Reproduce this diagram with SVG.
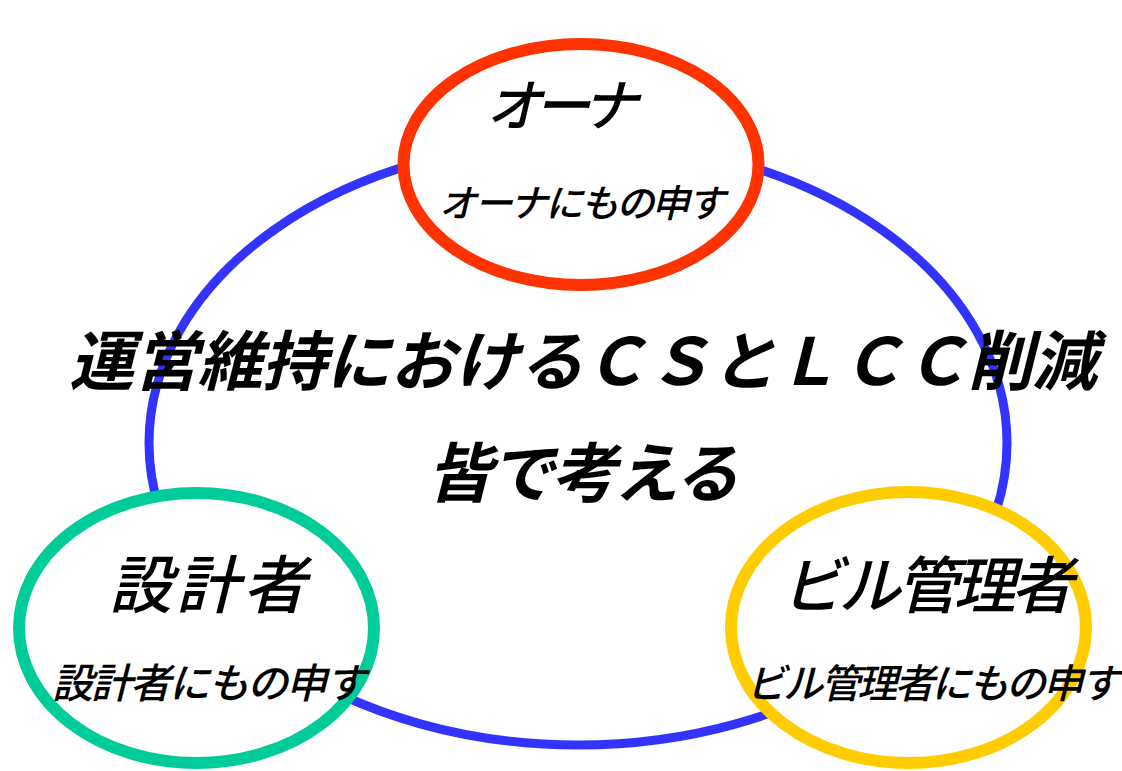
<svg xmlns="http://www.w3.org/2000/svg" width="1122" height="771" viewBox="0 0 1122 771">
<style>
.t{font-family:"Noto Sans CJK JP","Noto Sans",sans-serif;font-style:italic;fill:#000}
.b{font-weight:bold}
.m{font-weight:500}
</style>
<rect width="1122" height="771" fill="#fff"/>
<g id="center">
<ellipse cx="578" cy="443" rx="429" ry="302" fill="#fff" stroke="#3333FF" stroke-width="9"/>
</g>
<g id="owner">
<ellipse cx="581" cy="164.5" rx="177.5" ry="120.5" fill="#fff" stroke="#FF3300" stroke-width="12"/>
<text class="t m" x="486" y="126" font-size="56" textLength="152" lengthAdjust="spacing">オーナ</text>
<text class="t m" x="439" y="217" font-size="38" textLength="286" lengthAdjust="spacing">オーナにもの申す</text>
</g>
<g id="designer">
<ellipse cx="196.5" cy="628" rx="177.5" ry="135" fill="#fff" stroke="#00CC99" stroke-width="12"/>
<text class="t m" x="109" y="608" font-size="63" textLength="197" lengthAdjust="spacing">設計者</text>
<text class="t m" x="52" y="698" font-size="41" textLength="314" lengthAdjust="spacing">設計者にもの申す</text>
</g>
<g id="manager">
<ellipse cx="908.5" cy="627.5" rx="177.5" ry="135.5" fill="#fff" stroke="#FFCC00" stroke-width="12"/>
<text class="t m" x="781" y="608" font-size="62" textLength="292" lengthAdjust="spacing">ビル管理者</text>
<text class="t m" x="746" y="698" font-size="40" textLength="374" lengthAdjust="spacing">ビル管理者にもの申す</text>
</g>
<g id="title">
<text class="t b" x="69" y="385" font-size="65" textLength="1028" lengthAdjust="spacing">運営維持におけるＣＳとＬＣＣ削減</text>
<text class="t b" x="427" y="497" font-size="65" textLength="312" lengthAdjust="spacing">皆で考える</text>
</g>
<g id="connectors"></g>
</svg>
